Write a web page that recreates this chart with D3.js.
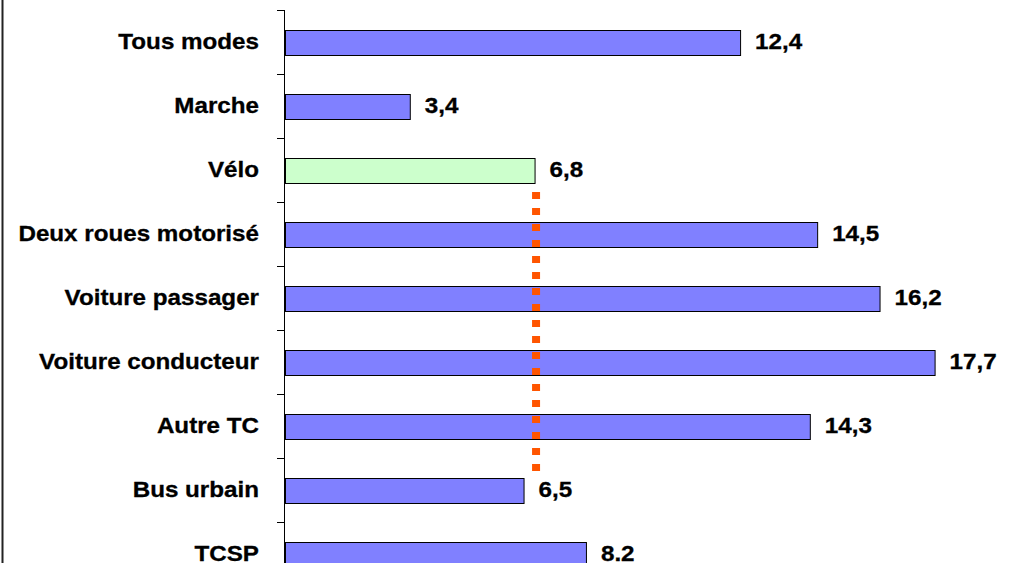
<!DOCTYPE html>
<meta charset="utf-8">
<style>
  body { margin: 0; background: #fff; }
  text { font-family: "Liberation Sans", Arial, sans-serif; font-weight: bold; font-size: 22px; fill: #000; }
</style>
<svg width="1014" height="563"></svg>
<script src="https://d3js.org/d3.v7.min.js"></script>
<script>

// data
var modes = ["Tous modes", "Marche", "Vélo", "Deux roues motorisé", "Voiture passager",
             "Voiture conducteur", "Autre TC", "Bus urbain", "TCSP"];
var values = [12.4, 3.4, 6.8, 14.5, 16.2, 17.7, 14.3, 6.5, 8.2];
var valueLabels = ["12,4", "3,4", "6,8", "14,5", "16,2", "17,7", "14,3", "6,5", "8.2"];
var highlight = "Vélo";
var refValue = 6.8;

var svg = d3.select("svg");

var x = d3.scaleLinear().domain([0, 20]).range([285, 285 + 36.7 * 20]);

// bands of 64px, bars ~25px thick
var y = d3.scaleBand().domain(modes).range([10, 10 + 64 * modes.length])
    .paddingInner(0.61).paddingOuter(0.305);
var yOuter = d3.scaleBand().domain(modes).range([10, 10 + 64 * modes.length]).padding(0);

// the font in the picture is a bit wider than Arial bold
var stretch = 1.1;

// frame line on the left
svg.append("line")
    .attr("x1", 2.5).attr("x2", 2.5).attr("y1", 0).attr("y2", 563)
    .attr("stroke", "#222").attr("stroke-width", 2);

// axis line and ticks at category boundaries
svg.append("line")
    .attr("x1", 284.5).attr("x2", 284.5).attr("y1", 10).attr("y2", 563)
    .attr("stroke", "#000");

var bounds = modes.map(function(d) { return yOuter(d); });
svg.append("g").selectAll("line")
    .data(bounds)
    .enter().append("line")
      .attr("x1", 277).attr("x2", 284)
      .attr("y1", function(d) { return Math.round(d) + 0.5; })
      .attr("y2", function(d) { return Math.round(d) + 0.5; })
      .attr("stroke", "#000");

// bars
svg.append("g").selectAll("rect")
    .data(modes)
    .enter().append("rect")
      .attr("x", x(0) + 0.5)
      .attr("y", function(d) { return Math.round(y(d)) + 0.5; })
      .attr("width", function(d, i) { return x(values[i]) - x(0); })
      .attr("height", Math.round(y.bandwidth()))
      .attr("fill", function(d) { return d === highlight ? "#CCFFCC" : "#8080FF"; })
      .attr("stroke", "#000")
      .attr("stroke-width", 1);

// category labels
svg.append("g").selectAll("text")
    .data(modes)
    .enter().append("text")
      .attr("transform", function(d) {
        return "translate(259," + (y(d) + y.bandwidth() / 2) + ") scale(" + stretch + ",1)";
      })
      .attr("dy", "0.33em")
      .attr("text-anchor", "end")
      .attr("stroke", "#000")
      .attr("stroke-width", 0.3)
      .text(function(d) { return d; });

// value labels
svg.append("g").selectAll("text")
    .data(modes)
    .enter().append("text")
      .attr("transform", function(d, i) {
        return "translate(" + (x(values[i]) + 15) + "," + (y(d) + y.bandwidth() / 2) + ") scale(" + stretch + ",1)";
      })
      .attr("dy", "0.33em")
      .attr("stroke", "#000")
      .attr("stroke-width", 0.3)
      .text(function(d, i) { return valueLabels[i]; });

// dotted reference line at the Vélo value
svg.append("line")
    .attr("x1", x(refValue) + 1.5).attr("x2", x(refValue) + 1.5)
    .attr("y1", 192).attr("y2", 471)
    .attr("stroke", "#FF5500")
    .attr("stroke-width", 8)
    .attr("stroke-dasharray", "7 9");

</script>
